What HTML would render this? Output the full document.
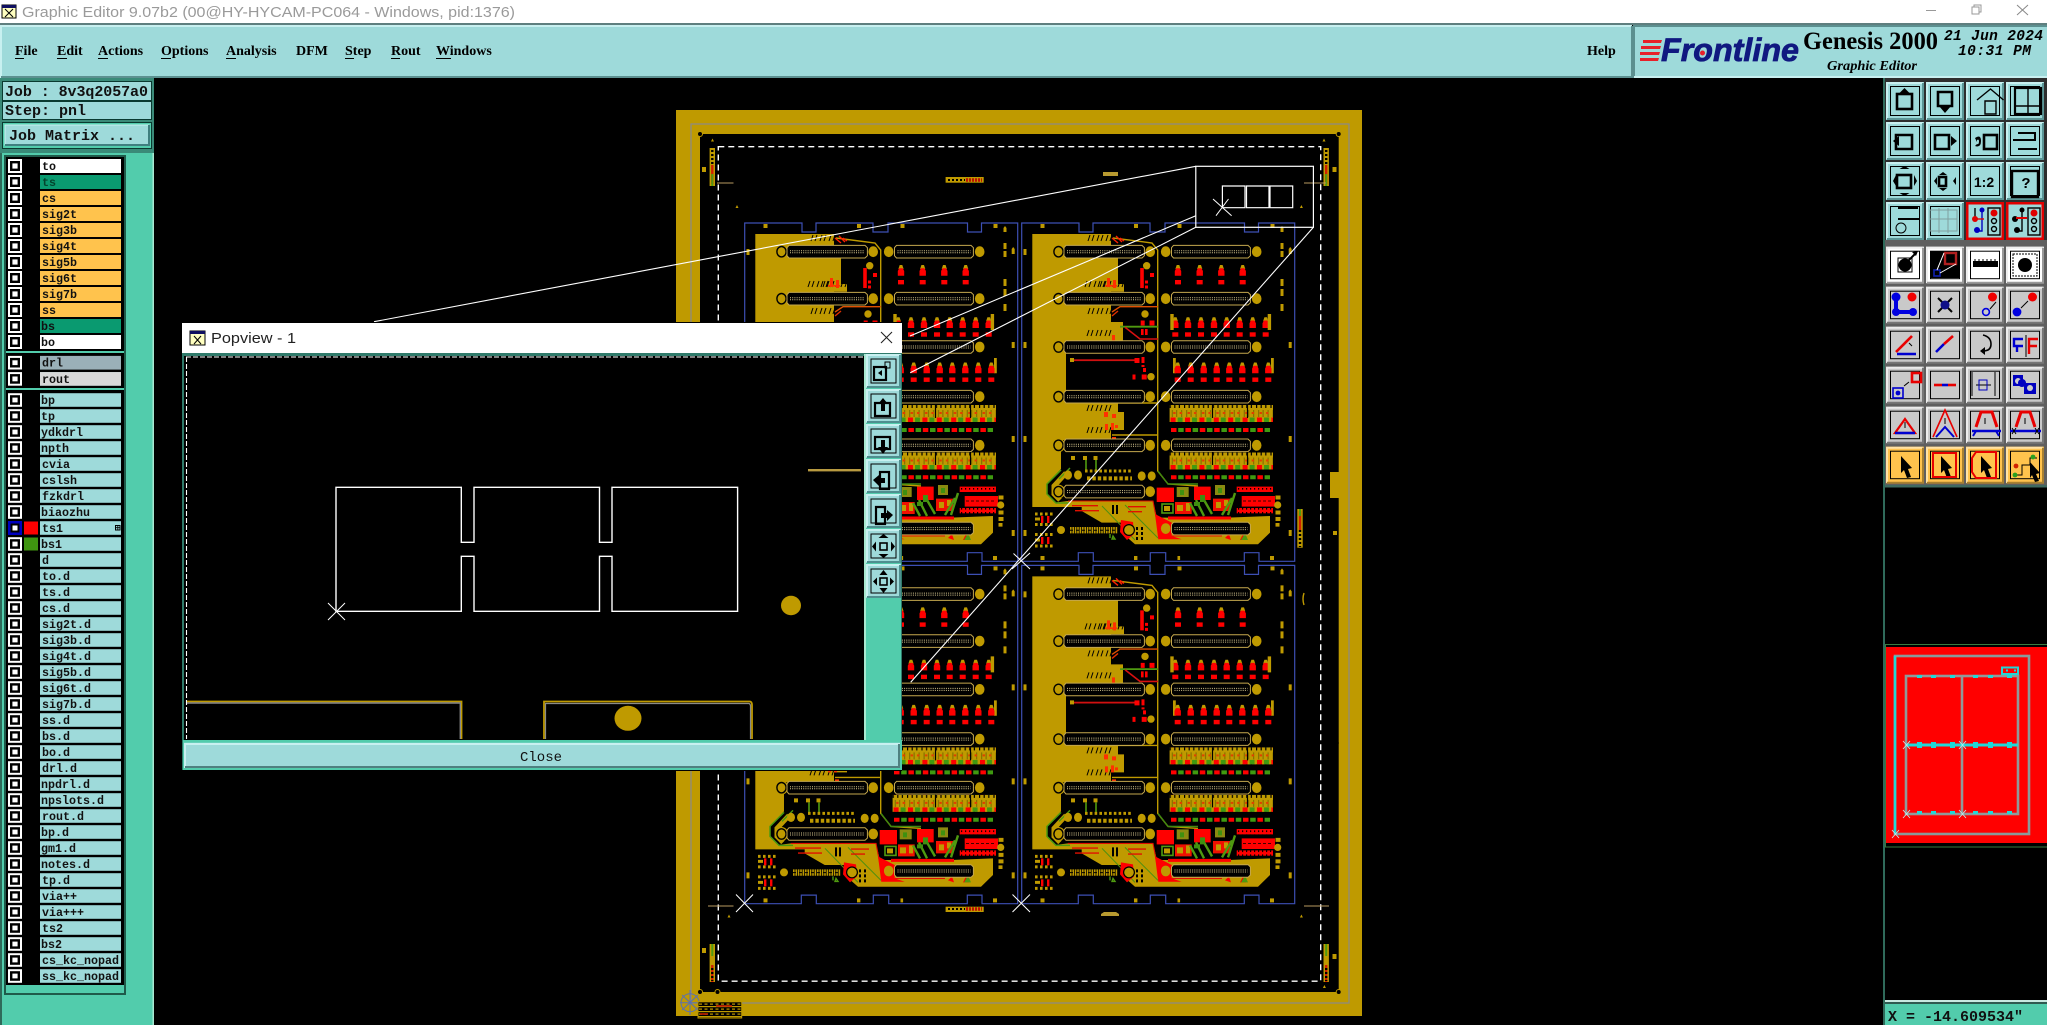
<!DOCTYPE html>
<html><head><meta charset="utf-8"><title>Graphic Editor</title>
<style>
html,body{margin:0;padding:0;background:#000;overflow:hidden}
svg{display:block}
.mono{font-family:"Liberation Mono",monospace;font-weight:bold}
.m{font-family:"Liberation Serif",serif;font-weight:bold;font-size:14px;fill:#000}
.l{font-family:"Liberation Mono",monospace;font-weight:bold;font-size:11.67px;fill:#111}
</style></head><body>
<svg xmlns="http://www.w3.org/2000/svg" width="2047" height="1025" viewBox="0 0 2047 1025">
<defs>
<pattern id="bead" width="14.4" height="17" patternUnits="userSpaceOnUse" x="1169.6" y="405">
<rect width="14.4" height="17" fill="#bf9a00"/>
<rect x="0" y="0" width="1.2" height="3" fill="#000"/><rect x="4.6" y="0" width="1.2" height="3" fill="#000"/><rect x="9.2" y="0" width="1.2" height="3" fill="#000"/>
<rect x="2.2" y="5" width="1" height="7" fill="#7a6a00"/><rect x="6.6" y="5" width="1" height="7" fill="#7a6a00"/><rect x="11.6" y="5" width="1" height="7" fill="#7a6a00"/>
<rect x="3.6" y="7" width="2.4" height="2" fill="#e04000"/><rect x="10" y="7" width="2.4" height="2" fill="#e04000"/>
<rect x="1" y="12.5" width="5" height="4.5" fill="#ff0000"/><rect x="8" y="12.5" width="5" height="4.5" fill="#3f9a10"/>
</pattern>
<pattern id="hatch" width="4" height="4" patternUnits="userSpaceOnUse"><rect width="4" height="4" fill="#ff0000"/><rect x="2" width="1.2" height="1.6" fill="#000"/></pattern>
<pattern id="gridp" width="5.5" height="5" patternUnits="userSpaceOnUse" x="698" y="1001"><rect width="5.5" height="5" fill="#000"/><rect width="5.5" height="1.2" fill="#bf9a00"/><rect y="2.5" x="1" width="3" height="1.2" fill="#bf9a00"/></pattern>

<g id="R"><rect x="8" y="-6.8" width="14" height="13.6" fill="#fff"/><rect x="11.2" y="-3.6" width="7.6" height="7.2" fill="#fff" stroke="#000" stroke-width="2.4"/><rect x="40" y="-6.8" width="81" height="13.6" fill="#9edada"/></g>
<g id="C"><rect x="8" y="-7" width="14" height="14" fill="#fff"/><rect x="11.2" y="-3.8" width="7.6" height="7.6" fill="#fff" stroke="#000" stroke-width="2.4"/></g>

<g id="bT"><rect width="38" height="38" fill="#9edada"/><path d="M1,37V1H37" stroke="#c8f0f0" stroke-width="2" fill="none"/><path d="M1,37H37V1" stroke="#5c9696" stroke-width="2" fill="none"/><rect x="4.5" y="4.5" width="29" height="29" fill="none" stroke="#000" stroke-width="1"/></g>
<g id="bG"><rect width="38" height="36.5" fill="#c9c9c9"/><path d="M1,36V1H37" stroke="#ececec" stroke-width="2" fill="none"/><path d="M1,36H37V1" stroke="#777" stroke-width="2" fill="none"/><rect x="4.5" y="4.5" width="29" height="27.5" fill="none" stroke="#000" stroke-width="1"/></g>
<g id="bW"><rect width="38" height="36.5" fill="#fff"/><path d="M1,36V1H37" stroke="#eee" stroke-width="2" fill="none"/><path d="M1,36H37V1" stroke="#999" stroke-width="2" fill="none"/><rect x="4.5" y="4.5" width="29" height="27.5" fill="none" stroke="#000" stroke-width="1"/></g>
<g id="bO"><rect width="38" height="36.5" fill="#ffc34d"/><path d="M1,36V1H37" stroke="#ffe2a6" stroke-width="2" fill="none"/><path d="M1,36H37V1" stroke="#a98030" stroke-width="2" fill="none"/><rect x="4.5" y="4.5" width="29" height="27.5" fill="none" stroke="#000" stroke-width="1"/></g>
<g id="bP"><rect width="35" height="34" fill="#9edada"/><path d="M1,33V1H34" stroke="#c8f0f0" stroke-width="2" fill="none"/><path d="M1,33H34V1" stroke="#4f8f8f" stroke-width="2" fill="none"/><rect x="5" y="5" width="25" height="24" fill="none" stroke="#000" stroke-width="1"/></g>

<g id="cL"><ellipse cx="1058.5" cy="0" rx="6.6" ry="7" fill="#bf9a00"/><ellipse cx="1058.5" cy="0" rx="4.6" ry="5.2" fill="#bf9a00" stroke="#000" stroke-width="1.4"/><path d="M1066,-6.3H1142L1144.4,-4V4L1142,6.3H1066L1064,4V-4Z" fill="#000" stroke="#c5a84e" stroke-width="1"/><path d="M1067,-1H1141M1067,1H1141" stroke="#d8c890" stroke-width="1" stroke-dasharray="1 1.2"/><ellipse cx="1150.2" cy="0" rx="4.8" ry="5.4" fill="#bf9a00"/></g>
<g id="cR"><ellipse cx="1165.7" cy="0" rx="4.8" ry="5.4" fill="#bf9a00"/><path d="M1173.5,-6.3H1248L1250.4,-4V4L1248,6.3H1173.5L1171.5,4V-4Z" fill="#000" stroke="#c5a84e" stroke-width="1"/><path d="M1174.5,-1H1247.5M1174.5,1H1247.5" stroke="#d8c890" stroke-width="1" stroke-dasharray="1 1.2"/><ellipse cx="1256.7" cy="0" rx="4.8" ry="5.4" fill="#bf9a00"/></g>
<g id="k"><path d="M-2.6,4L-1.3,0H1.3L2.6,4Z" fill="#bf9a00"/><path d="M-1.8,3.2H1.8L3.2,6V10.7H-3.2V6Z" fill="#ff0000"/><rect x="-3" y="15" width="6" height="4.4" fill="#ff0000"/></g>
<g id="dash"><path d="M0,6L2,0M4,6L6,0M9,6L11,0M13,6L15,0M18,6L20,0M22,6L24,0" stroke="#000" stroke-width="1" fill="none"/></g>

<g id="P">
<path d="M1021.7,223H1079V232H1093V223H1150V232H1165V223H1244.5V232H1258.5V223H1294.7V561.3H1259V552.7H1244.3V561.3H1165.7V552.7H1150.3V561.3H1093.3V552.7H1078.3V561.3H1021.7Z" fill="none" stroke="#3d4fb4" stroke-width="1.2"/>
<!-- plane -->
<path d="M1032.3,234H1111V258H1118V284H1124V291.7H1111V322H1123V345H1066V391H1124V403H1118V412H1124V430H1111V440H1061V469L1046.7,484.3V494.3L1055,502.6L1068,501H1153L1157,517.6H1228L1270,516V532.6L1258,544.3H1135L1121.7,532.6L1123,522.6H1101.7L1081.7,511V507H1032.3Z" fill="#bf9a00"/>
<!-- green band around pad -->
<path d="M1061,470L1047,484V494L1056,503H1070" fill="none" stroke="#4a9a10" stroke-width="1.5"/>
<path d="M1066,473L1054,486V494L1060,500" fill="none" stroke="#bf9a00" stroke-width="5"/>
<path d="M1070,468L1059,479" stroke="#4a9a10" stroke-width="1.4"/>
<!-- band traces -->
<path d="M1068,501H1153L1157,522L1160,536H1222" fill="none" stroke="#e01000" stroke-width="1.1"/>
<path d="M1102,506L1135,540M1125,505L1158,538" fill="none" stroke="#4f9010" stroke-width="1"/>
<path d="M1072,505h26v1.4h-26zM1075,510h24v1.4h-24zM1128,506h18v1.4h-18zM1128,511h14v1.4h-14z" fill="#e01000"/>
<path d="M1112,505h2v9h-2zM1116,505h2v9h-2z" fill="#000"/>
<!-- red wedge near bottom connector -->
<path d="M1155,514L1171.7,522.6V536L1181.7,539.3H1158.3Z" fill="#ff0000"/>
<path d="M1168,518H1231" stroke="#ff0000" stroke-width="3"/>
<path d="M1225,538l4,-4l2,6zM1240,540l3,-6l3,6z" fill="#ff0000"/><path d="M1241,540l4,-7l3,7z" fill="#4f9a10"/>
<path d="M1121,520L1133,522L1134,534L1127,540L1120,532Z" fill="#ff0000"/>
<!-- upper-left traces -->
<path d="M1113,238L1152,243L1157.7,250V471L1168,484L1198,486" fill="none" stroke="#bf9a00" stroke-width="1.4"/>
<path d="M1112,312L1120,306.7H1158" fill="none" stroke="#e05000" stroke-width="1.4"/>
<path d="M1120,326.7H1158" stroke="#4f9a10" stroke-width="1.8"/>
<path d="M1125,327.3L1140,339H1158" stroke="#d81010" stroke-width="1.6" fill="none"/>
<path d="M1112,403H1158M1112,435H1158" stroke="#bf9a00" stroke-width="1.4"/>
<path d="M1112,238L1118,243M1116,236L1122,242M1120,238L1124,241" stroke="#ff2000" stroke-width="1.4"/>
<path d="M1112,316L1118,311" stroke="#e03000" stroke-width="1.4"/>
<!-- marks -->
<use href="#dash" x="1088" y="235"/><use href="#dash" x="1085" y="281"/><use href="#dash" x="1100" y="281"/><use href="#dash" x="1088" y="308"/><use href="#dash" x="1087" y="330"/><use href="#dash" x="1087" y="405"/><use href="#dash" x="1087" y="427"/>
<path d="M1107,278h3v9h-3zM1113,280h3v8h-3zM1105,285h12v1.6h-12zM1112,335h3v6h-3zM1104,412h4v5h-4zM1112,414h4v4h-4zM1105,424h3v6h-3zM1111,423h3v7h-3zM1115,425h3v3h-3zM1112,437h4v3h-4z" fill="#ff3000"/>
<!-- connectors -->
<use href="#cL" y="251.7"/><use href="#cL" y="298.7"/><use href="#cL" y="347"/><use href="#cL" y="396.7"/><use href="#cL" y="445.3"/>
<ellipse cx="1058.5" cy="491.6" rx="6" ry="6.6" fill="#000"/><use href="#cL" y="491.6"/>
<use href="#cR" y="251.7"/><use href="#cR" y="298.7"/><use href="#cR" y="347"/><use href="#cR" y="396.7"/><use href="#cR" y="445.3"/><use href="#cR" y="528.6"/>
<!-- components -->
<use href="#k" x="1178" y="265"/><use href="#k" x="1199.7" y="265"/><use href="#k" x="1221.3" y="265"/><use href="#k" x="1242.7" y="265"/>
<use href="#k" x="1175.3" y="317.3"/><use href="#k" x="1188" y="317.3"/><use href="#k" x="1201" y="317.3"/><use href="#k" x="1214" y="317.3"/><use href="#k" x="1226.7" y="317.3"/><use href="#k" x="1239.7" y="317.3"/><use href="#k" x="1252.7" y="317.3"/><use href="#k" x="1265.7" y="317.3"/>
<path d="M1170.3,314h3.4v16h-3.4zM1267.7,314h3.4v16h-3.4zM1173,358h2.8v15.3h-2.8zM1271,358h2.8v15.3h-2.8z" fill="#bf9a00"/>
<use href="#k" x="1177.7" y="362.5"/><use href="#k" x="1190.7" y="362.5"/><use href="#k" x="1203.7" y="362.5"/><use href="#k" x="1216.7" y="362.5"/><use href="#k" x="1229.3" y="362.5"/><use href="#k" x="1242.3" y="362.5"/><use href="#k" x="1255.3" y="362.5"/><use href="#k" x="1268.3" y="362.5"/>
<rect x="1169.6" y="405" width="103.4" height="17" fill="url(#bead)"/>
<rect x="1169.6" y="405" width="103.4" height="17" fill="url(#bead)" transform="translate(0,47.5)"/>
<path d="M1212.5,405v13M1247.5,405v13" stroke="#000" stroke-width="1.2"/>
<path d="M1212.5,452v13M1247.5,452v13" stroke="#000" stroke-width="1.2"/>
<path d="M1171,430H1270" stroke="#ff0000" stroke-width="4" stroke-dasharray="5.5 8.9"/>
<path d="M1178.2,430H1270" stroke="#3f9a10" stroke-width="4" stroke-dasharray="5.5 8.9"/>
<path d="M1171,477.3H1270" stroke="#ff0000" stroke-width="4" stroke-dasharray="5.5 8.9"/>
<path d="M1178.2,477.3H1270" stroke="#3f9a10" stroke-width="4" stroke-dasharray="5.5 8.9"/>
<!-- left col red parts -->
<circle cx="1146.7" cy="265.7" r="3.7" fill="#bf9a00"/><path d="M1140.2,268h3.6v20h-3.6zM1150,273h4v4h-4zM1145,280.5h3v3h-3zM1145,285.5h3v3h-3z" fill="#ff0000"/>
<circle cx="1145" cy="314" r="3.7" fill="#bf9a00"/><path d="M1140.7,320.5h4v5h-4zM1149.5,320.5h5v5h-5zM1141,329h2.6v6h-2.6zM1145,329h2.6v6h-2.6z" fill="#ff0000"/>
<rect x="1071" y="359.3" width="66" height="1.8" fill="#d01010"/><rect x="1070" y="358" width="4" height="4" fill="#bf9a00"/>
<path d="M1134.5,358h5v5h-5zM1141.5,357h3v6h-3zM1141.5,365h3v2h-3zM1143,368h3v4h-3zM1132.5,374.5h3v5h-3zM1141.7,374.5h5v5h-5z" fill="#ff0000"/><circle cx="1151" cy="376.7" r="3.7" fill="#bf9a00"/>
<!-- lower black parts -->
<path d="M1071,456h4v4h-4zM1083,456h4v4h-4zM1093.5,456h4v4h-4z" fill="#bf9a00"/>
<path d="M1086,460v10M1096,460v10" stroke="#4f9a10" stroke-width="1.6"/>
<path d="M1085,471H1133" stroke="#bf9a00" stroke-width="3" stroke-dasharray="2.6 2.2"/>
<path d="M1087,478.4H1132" stroke="#bf9a00" stroke-width="4" stroke-dasharray="3.4 2"/>
<ellipse cx="1068" cy="475" rx="4" ry="4.6" fill="#bf9a00"/><ellipse cx="1078" cy="475" rx="4" ry="4.6" fill="#bf9a00"/><ellipse cx="1141.7" cy="476" rx="4" ry="4.6" fill="#bf9a00"/><ellipse cx="1151.7" cy="476" rx="4" ry="4.6" fill="#bf9a00"/>
<path d="M1158,471L1168,484H1198" stroke="#3f8a10" stroke-width="1.4" fill="none"/>
<!-- power block -->
<rect x="1156.7" y="487.6" width="17.3" height="14.4" fill="#ff0000"/><rect x="1194" y="486.6" width="16.7" height="13.4" fill="#ff0000"/>
<rect x="1241.7" y="496" width="33.3" height="10.6" fill="#ff0000"/><path d="M1243,501h30" stroke="#000" stroke-width=".8" stroke-dasharray="3 2"/>
<rect x="1236.7" y="486.6" width="36.3" height="5.4" fill="url(#hatch)"/><rect x="1236.7" y="508" width="36.3" height="5.3" fill="url(#hatch)"/>
<path d="M1175,502h16.7v12h-16.7zM1213,498.6h17v12.4h-17z" fill="#f01000"/>
<path d="M1177,505h6v6h-6zM1186,503h4v8h-4zM1216,502h5v6h-5zM1224,500h4v6h-4z" fill="#c09a00"/>
<path d="M1176.7,487h12v10h-12zM1215,485h10v10h-10z" fill="#8a8a10"/>
<path d="M1180,490h4v5h-4zM1218,488h4v5h-4z" fill="#3f9010"/>
<rect x="1162" y="504" width="11" height="9" fill="none" stroke="#4f9a10" stroke-width="1.6"/><rect x="1164" y="506" width="6" height="5" fill="#bf9a00"/>
<path d="M1190,503L1197,516M1196,500L1204,516M1204,500L1212,514M1235,493L1228,515M1232,498L1222,515" stroke="#4f9a10" stroke-width="2.4" fill="none"/>
<path d="M1200,495h5v7h-5zM1194,502h6v4h-6z" fill="#3f9010"/>
<circle cx="1277.7" cy="505" r="3.6" fill="#bf9a00"/><path d="M1275.5,495.5h5v4h-5zM1275.5,510.5h5v4h-5zM1275.5,517h5v4h-5zM1275.5,523h4v3.6h-4z" fill="#bf9a00"/>
<!-- small groups -->
<g fill="#bf9a00"><path d="M1035,512.5h2.6v3h-2.6zM1040,512.5h2.6v3h-2.6zM1045,512.5h2.6v3h-2.6zM1050,512.5h2.6v3h-2.6zM1035,523h2.6v3h-2.6zM1040,523h2.6v3h-2.6zM1045,523h2.6v3h-2.6zM1050,523h2.6v3h-2.6zM1035,517.5h5v3h-5zM1035,533h2.6v3h-2.6zM1040,533h2.6v3h-2.6zM1045,533h2.6v3h-2.6zM1050,533h2.6v3h-2.6zM1035,544.5h2.6v3h-2.6zM1040,544.5h2.6v3h-2.6zM1045,544.5h2.6v3h-2.6zM1050,544.5h2.6v3h-2.6zM1035,538.5h5v3h-5z"/></g>
<path d="M1041,516h2.4v7h-2.4zM1047,516h2.4v7h-2.4zM1041,537h2.4v7h-2.4zM1047,537h2.4v7h-2.4z" fill="#ff0000"/>
<path d="M1070,530.2H1118" stroke="#bf9a00" stroke-width="6.4" stroke-dasharray="1.6 .8"/><path d="M1070,530.2H1118" stroke="#000" stroke-width="1" stroke-dasharray="3 3"/>
<circle cx="1061" cy="530" r="4" fill="#bf9a00"/><circle cx="1129" cy="530" r="5.4" fill="#bf9a00" stroke="#000" stroke-width="1.2"/>
<path d="M1113,536l2,3h-3zM1110,534v4" stroke="#4f9a10" stroke-width="1.4"/>
<path d="M1136,527h2v3h-2zM1141,527h2v3h-2zM1136,532h2v3h-2zM1141,532h2v3h-2zM1136,537h2v3h-2zM1141,537h2v3h-2z" fill="#000"/>
<!-- vias -->
<g fill="#bf9a00"><path d="M1280.5,228l1.5,-2l1.5,2v4h-3zM1280.5,243h3v6h-3zM1280.5,251h3v6h-3zM1280.5,279h3v7h-3zM1280.5,289h3v7h-3zM1280.5,304h3v7h-3zM1288.7,249l1.5,-2l1.5,2v5h-3zM1288.7,342h3v6h-3zM1288.7,436h3v6h-3zM1288.7,530h3v6h-3zM1023.5,249h3v6h-3zM1023.5,342h3v6h-3zM1023.5,436h3v6h-3zM1023.5,530h3v6h-3z"/>
<rect x="1040.5" y="224" width="4" height="4"/><rect x="1134" y="224" width="4" height="4"/><rect x="1177.5" y="224" width="4" height="4"/><rect x="1270.5" y="224" width="4" height="4"/>
<rect x="1040.5" y="556" width="4" height="4"/><rect x="1134" y="556" width="3.4" height="4"/><rect x="1177.5" y="556" width="2.6" height="4"/><rect x="1270" y="556" width="4" height="4"/></g>
</g>
</defs>

<rect width="2047" height="1025" fill="#000"/>

<!-- Title bar -->
<rect width="2047" height="23" fill="#fff"/>
<rect y="23" width="2047" height="2" fill="#5f7f7f"/>
<rect x="2" y="5" width="14" height="13" fill="#ffffc0" stroke="#000"/><rect x="2" y="5" width="14" height="3" fill="#101060"/><path d="M5,9L13,17M13,9L5,17" stroke="#000"/>
<text x="22" y="17" font-family="'Liberation Sans',sans-serif" font-size="15" fill="#9a9a9a" textLength="493" lengthAdjust="spacingAndGlyphs">Graphic Editor 9.07b2 (00@HY-HYCAM-PC064 - Windows, pid:1376)</text>
<path d="M1926,10.5H1936" stroke="#999"/><rect x="1972" y="7" width="7" height="7" fill="none" stroke="#999"/><path d="M1974,7V5H1981V12H1979" fill="none" stroke="#999"/><path d="M2017,5L2028,15M2028,5L2017,15" stroke="#888"/>

<!-- Menu bar -->
<rect y="25" width="1632" height="53" fill="#9edada"/>
<path d="M1,78V26H1632" stroke="#c8f0f0" stroke-width="2" fill="none"/><path d="M1,77H1632V26" stroke="#5c9090" stroke-width="2" fill="none"/>
<text class="m" x="15" y="55">File</text><text class="m" x="57" y="55">Edit</text><text class="m" x="98" y="55">Actions</text><text class="m" x="161" y="55">Options</text><text class="m" x="226" y="55">Analysis</text><text class="m" x="296" y="55">DFM</text><text class="m" x="345" y="55">Step</text><text class="m" x="391" y="55">Rout</text><text class="m" x="436" y="55">Windows</text>
<path d="M15,58.5h9M57,58.5h10M98,58.5h10M161,58.5h10M226,58.5h10M345,58.5h9M391,58.5h9M436,58.5h15" stroke="#000" stroke-width="1"/>
<text class="m" x="1587" y="55">Help</text>
<rect x="1634" y="25" width="413" height="53" fill="#9edada"/>
<path d="M1634,78V26H2047" stroke="#5c9090" stroke-width="2" fill="none"/><path d="M1634,77H2047" stroke="#c8f0f0" stroke-width="2"/>
<path d="M1643,40h19l-1,3h-18zM1641,46h20l-1,3h-19zM1640,52h20l-1,3h-19zM1640,58h19l-1,3h-18z" fill="#e8202a"/>
<text x="1661" y="61" font-family="'Liberation Sans',sans-serif" font-style="italic" font-weight="bold" font-size="32" fill="#101880" stroke="#101880" stroke-width=".8" textLength="138" lengthAdjust="spacingAndGlyphs">Frontline</text>
<circle cx="1702.5" cy="53" r="2.5" fill="#e8202a"/>
<text x="1803" y="49" font-family="'Liberation Serif',serif" font-weight="bold" font-size="25" fill="#000" textLength="135" lengthAdjust="spacingAndGlyphs">Genesis 2000</text>
<text x="1827" y="70" font-family="'Liberation Serif',serif" font-weight="bold" font-style="italic" font-size="14" fill="#000" textLength="90" lengthAdjust="spacingAndGlyphs">Graphic Editor</text>
<text x="1944" y="40" font-family="'Liberation Mono',monospace" font-weight="bold" font-style="italic" font-size="14.5" fill="#000" textLength="99">21 Jun 2024</text>
<text x="1958" y="55" font-family="'Liberation Mono',monospace" font-weight="bold" font-style="italic" font-size="14.5" fill="#000" textLength="73">10:31 PM</text>

<!-- Left panel -->
<rect x="0" y="78" width="154" height="947" fill="#52ccac"/>
<rect x="0" y="78" width="154" height="75" fill="#3a8a78"/>
<rect x="2.5" y="81.5" width="149" height="38" fill="#9edada" stroke="#0a3a30"/><line x1="2" y1="101" x2="152" y2="101" stroke="#0a3a30" stroke-width="2"/>
<text class="mono" x="5" y="96" font-size="15" fill="#111" textLength="143">Job : 8v3q2057a0</text>
<text class="mono" x="5" y="115" font-size="15" fill="#111">Step: pnl</text>
<rect x="2.5" y="122.5" width="149" height="26" fill="#52ccac" stroke="#0a3a30"/>
<rect x="5" y="125" width="144" height="20" fill="#9edada" stroke="#c8f0f0"/><path d="M5,145H149V125" stroke="#3f7f7f" stroke-width="2" fill="none"/>
<text class="mono" x="9" y="140" font-size="15" fill="#111">Job Matrix ...</text>
<rect x="0" y="153" width="2" height="872" fill="#2f6a5a"/>
<rect x="152.5" y="153" width="1.5" height="872" fill="#a8e8d0"/>
<rect x="4" y="155" width="122" height="840" fill="#1f5a4a"/>
<rect x="6" y="157" width="118" height="836" fill="#000"/>
<rect x="6" y="985" width="118" height="8" fill="#52ccac"/>
<rect x="6" y="351" width="118" height="2" fill="#52ccac"/><rect x="6" y="388" width="118" height="2" fill="#52ccac"/>

<!-- group1 -->
<use href="#C" y="166"/><use href="#C" y="182"/><use href="#C" y="198"/><use href="#C" y="214"/><use href="#C" y="230"/><use href="#C" y="246"/><use href="#C" y="262"/><use href="#C" y="278"/><use href="#C" y="294"/><use href="#C" y="310"/><use href="#C" y="326"/><use href="#C" y="342"/>
<rect x="40" y="159" width="81" height="14" fill="#fff"/><rect x="40" y="175" width="81" height="14" fill="#0a9a70"/>
<g fill="#ffc34d"><rect x="40" y="191" width="81" height="14"/><rect x="40" y="207" width="81" height="14"/><rect x="40" y="223" width="81" height="14"/><rect x="40" y="239" width="81" height="14"/><rect x="40" y="255" width="81" height="14"/><rect x="40" y="271" width="81" height="14"/><rect x="40" y="287" width="81" height="14"/><rect x="40" y="303" width="81" height="14"/></g>
<rect x="40" y="319" width="81" height="14" fill="#0a9a70"/><rect x="40" y="335" width="81" height="14" fill="#fff"/>
<text class="l" x="42" y="170">to</text><text class="l" x="42" y="186" style="fill:#04452e">ts</text><text class="l" x="42" y="202">cs</text><text class="l" x="42" y="218">sig2t</text><text class="l" x="42" y="234">sig3b</text><text class="l" x="42" y="250">sig4t</text><text class="l" x="42" y="266">sig5b</text><text class="l" x="42" y="282">sig6t</text><text class="l" x="42" y="298">sig7b</text><text class="l" x="42" y="314">ss</text><text class="l" x="41" y="330">bs</text><text class="l" x="41" y="346">bo</text>
<!-- group2 -->
<use href="#R" y="362.7"/><use href="#R" y="378.9"/>
<rect x="40" y="356" width="81" height="13.6" fill="#9ab0b8"/><rect x="40" y="372.1" width="81" height="13.6" fill="#d8d8d8"/>
<text class="l" x="42" y="366.7">drl</text><text class="l" x="42" y="382.9">rout</text>
<!-- group3 -->
<use href="#R" y="400"/><text class="l" x="41" y="404">bp</text>
<use href="#R" y="416"/><text class="l" x="41" y="420">tp</text>
<use href="#R" y="432"/><text class="l" x="41" y="436">ydkdrl</text>
<use href="#R" y="448"/><text class="l" x="41" y="452">npth</text>
<use href="#R" y="464"/><text class="l" x="42" y="468">cvia</text>
<use href="#R" y="480"/><text class="l" x="42" y="484">cslsh</text>
<use href="#R" y="496"/><text class="l" x="42" y="500">fzkdrl</text>
<use href="#R" y="512"/><text class="l" x="41" y="516">biaozhu</text>
<use href="#R" y="528"/><text class="l" x="42" y="532">ts1</text>
<use href="#R" y="544"/><text class="l" x="41" y="548">bs1</text>
<use href="#R" y="560"/><text class="l" x="42" y="564">d</text>
<use href="#R" y="576"/><text class="l" x="42" y="580">to.d</text>
<use href="#R" y="592"/><text class="l" x="42" y="596">ts.d</text>
<use href="#R" y="608"/><text class="l" x="42" y="612">cs.d</text>
<use href="#R" y="624"/><text class="l" x="42" y="628">sig2t.d</text>
<use href="#R" y="640"/><text class="l" x="42" y="644">sig3b.d</text>
<use href="#R" y="656"/><text class="l" x="42" y="660">sig4t.d</text>
<use href="#R" y="672"/><text class="l" x="42" y="676">sig5b.d</text>
<use href="#R" y="688"/><text class="l" x="42" y="692">sig6t.d</text>
<use href="#R" y="704"/><text class="l" x="42" y="708">sig7b.d</text>
<use href="#R" y="720"/><text class="l" x="42" y="724">ss.d</text>
<use href="#R" y="736"/><text class="l" x="42" y="740">bs.d</text>
<use href="#R" y="752"/><text class="l" x="42" y="756">bo.d</text>
<use href="#R" y="768"/><text class="l" x="42" y="772">drl.d</text>
<use href="#R" y="784"/><text class="l" x="41" y="788">npdrl.d</text>
<use href="#R" y="800"/><text class="l" x="41" y="804">npslots.d</text>
<use href="#R" y="816"/><text class="l" x="42" y="820">rout.d</text>
<use href="#R" y="832"/><text class="l" x="41" y="836">bp.d</text>
<use href="#R" y="848"/><text class="l" x="41" y="852">gm1.d</text>
<use href="#R" y="864"/><text class="l" x="41" y="868">notes.d</text>
<use href="#R" y="880"/><text class="l" x="42" y="884">tp.d</text>
<use href="#R" y="896"/><text class="l" x="42" y="900">via++</text>
<use href="#R" y="912"/><text class="l" x="42" y="916">via+++</text>
<use href="#R" y="928"/><text class="l" x="42" y="932">ts2</text>
<use href="#R" y="944"/><text class="l" x="41" y="948">bs2</text>
<use href="#R" y="960"/><text class="l" x="42" y="964">cs_kc_nopad</text>
<use href="#R" y="976"/><text class="l" x="42" y="980">ss_kc_nopad</text>
<rect x="8" y="521" width="14" height="14" fill="#0000c0"/><rect x="11.5" y="524.5" width="7" height="7" fill="#fff" stroke="#000" stroke-width="2"/>
<rect x="24" y="521.5" width="14" height="13" fill="#ff0000"/><rect x="24" y="537.5" width="14" height="13" fill="#3f9410"/>
<rect x="115.5" y="525.5" width="4.5" height="4.5" fill="none" stroke="#000"/><path d="M117.8,525.5v4.5M115.5,527.7h4.5" stroke="#000" stroke-width=".8"/>

<!-- Board -->
<path fill-rule="evenodd" d="M676,110H1362V1016H676ZM700,134V992H1338.7V134Z" fill="#bf9a00"/>
<rect x="1330" y="472" width="9" height="26" fill="#bf9a00"/>
<rect x="691" y="124" width="658" height="879" fill="none" stroke="#8a8a8a" stroke-width="1.2"/>
<circle cx="700" cy="134" r="2.5" fill="#000" stroke="#bf9a00"/><circle cx="1338.7" cy="134" r="2.5" fill="#000" stroke="#bf9a00"/><circle cx="700" cy="992" r="2.5" fill="#000" stroke="#bf9a00"/><circle cx="717.5" cy="992" r="2.5" fill="#000" stroke="#bf9a00"/><circle cx="1338.7" cy="992" r="2.5" fill="#000" stroke="#bf9a00"/>
<rect x="718.3" y="146.7" width="602.4" height="834.5" fill="none" stroke="#fff" stroke-width="1.4" stroke-dasharray="6 4"/>

<use href="#P"/>
<use href="#P" x="-277"/>
<use href="#P" y="342.4"/>
<use href="#P" x="-277" y="342.4"/>

<!-- frame details -->
<g fill="#bf9a00">
<rect x="709.6" y="148" width="5.4" height="38"/><rect x="1323.5" y="148" width="5.4" height="38"/><rect x="709.6" y="944" width="5.4" height="38"/><rect x="1323.5" y="944" width="5.4" height="38"/><rect x="1297.3" y="509" width="5.4" height="38.7"/>
<rect x="702" y="167" width="4" height="5"/><rect x="1332.5" y="167" width="4" height="5"/><rect x="702" y="948" width="4" height="5"/><rect x="1332.5" y="954" width="4" height="5"/><rect x="1333" y="531" width="4" height="4"/>
<rect x="945.6" y="177" width="38.1" height="5.7"/><rect x="945.6" y="906.7" width="38.1" height="5.3"/>
<path d="M712.5,138.5l1.5,3h-3zM1324,138.5l1.5,3h-3zM737,205l1.5,3h-3zM1301.4,205l1.5,3h-3zM729,914.5l1.5,3h-3zM1301.4,914.5l1.5,3h-3zM1324.4,985l1.5,3h-3z"/>
<path d="M1103,172h15v4h-15zM1101,914l3,-2h12l3,2v2h-18z" fill="#b89a30"/>
</g>
<path d="M712.3,165V184M1326.2,165V184M712.3,965V982M1326.2,965V982M1300,511V530" stroke="#d02000" stroke-width="2.4"/>
<path d="M712.3,174V186M1326.2,174V186M712.3,944V956M1326.2,944V956M1300,509V516" stroke="#4f9a10" stroke-width="2"/>
<path d="M712.3,150V165M1326.2,150V165M712.3,968V981M1326.2,968V981M1300,530V547" stroke="#000" stroke-width="2.4" stroke-dasharray="2 2"/>
<path d="M948,180H965M948,909H965" stroke="#000" stroke-width="2" stroke-dasharray="2 2"/>
<path d="M966,180H982M966,909H982" stroke="#c01000" stroke-width="3.6" stroke-dasharray="2 1"/>
<path d="M717,183H733.5M1304,183H1326M708,906H733.5M1304,906H1329" stroke="#b89a60" stroke-width="1"/>
<path d="M1304,593q-2,6 0,12" stroke="#bf9a00" stroke-width="1.4" fill="none"/>
<path d="M1336.7,741v4M1334.7,743h4" stroke="#000" stroke-width="1.4"/>
<g stroke="#5a70b0" stroke-width="1" fill="none"><circle cx="690" cy="1002.7" r="9"/><path d="M690,990V1015M680,1002.7H700M682,995L698,1010M682,1010L698,995"/></g>
<rect x="698" y="1001.7" width="43.7" height="16.3" fill="url(#gridp)" stroke="#bf9a00"/>
<path d="M700,1014h8M716,1006h16" stroke="#d02000" stroke-width="1.4"/>

<!-- Crosses -->
<g stroke="#fff" stroke-width="1" fill="none">
<path d="M1013.5,553.5L1030,569M1030,553L1012,569"/>
<path d="M736,894.5L753,912M753,894.5L736,912"/>
<path d="M1012.5,894.5L1030,912M1030,894.5L1012.5,912"/>
<path d="M1213,199L1231.6,215.7M1228.5,199L1216,215.7"/>
</g>
<!-- Popview marker -->
<rect x="1195.8" y="166.3" width="117.6" height="61" fill="none" stroke="#fff" stroke-width="1.2"/>
<path d="M1222.4,186H1245V207.7H1222.4ZM1246.5,186H1269V207.7H1246.5ZM1270,186H1292.7V207.7H1270Z" fill="none" stroke="#fff" stroke-width="1.2"/>
<!-- zoom lines -->
<g stroke="#fff" stroke-width="1.1" fill="none">
<line x1="1195.8" y1="166.3" x2="374" y2="321.7"/>
<line x1="1195.8" y1="215.7" x2="910" y2="336"/>
<line x1="1195.8" y1="227.3" x2="910.2" y2="372.7"/>
<line x1="1313.4" y1="227.3" x2="910.7" y2="682.3"/>
</g>

<!-- Popview -->
<rect x="181" y="322" width="721" height="449" fill="#000"/>
<rect x="182" y="323" width="720" height="30" fill="#fff"/>
<rect x="190" y="331" width="15" height="14" fill="#ffffc0" stroke="#000"/><rect x="190" y="331" width="15" height="3" fill="#101060"/><path d="M194,336L201,344M201,336L194,344" stroke="#000"/>
<text x="211" y="343" font-family="'Liberation Sans',sans-serif" font-size="15" fill="#222" textLength="85" lengthAdjust="spacingAndGlyphs">Popview - 1</text>
<path d="M881,332L892,343M892,332L881,343" stroke="#222" stroke-width="1.1"/>
<rect x="182" y="353" width="720" height="417" fill="#2f7a6a"/>
<rect x="184" y="356" width="680" height="384" fill="#000"/>
<rect x="864" y="354" width="2" height="387" fill="#a8e8d0"/>
<rect x="866" y="354" width="35" height="387" fill="#52ccac"/>
<path d="M186,357H863" stroke="#fff" stroke-width="1.1" stroke-dasharray="5 2"/>
<path d="M186.5,357V739" stroke="#fff" stroke-width="1.1" stroke-dasharray="5 2"/>
<path d="M336,487.3H461.3V542.3H474V487.3H599.5V542.3H612V487.3H737.6V611.3H612V556.3H599.5V611.3H474V556.3H461.3V611.3H336Z" fill="none" stroke="#fff" stroke-width="1.4"/>
<path d="M328,603L345,620M345,603L328,620" stroke="#fff" stroke-width="1"/>
<rect x="808" y="469" width="53" height="2.4" fill="#b89a40"/>
<ellipse cx="791" cy="605.5" rx="10" ry="9.7" fill="#bf9a00"/>
<ellipse cx="628" cy="718.3" rx="13.5" ry="12.5" fill="#bf9a00"/>
<path d="M187,701.5H461.5V739" fill="none" stroke="#bf9a00" stroke-width="1.8"/><path d="M187,703H460.3V739" fill="none" stroke="#8a8a8a" stroke-width="1.4"/>
<path d="M544,739V701.5H750Q752,702 752,705V739" fill="none" stroke="#bf9a00" stroke-width="1.8"/><path d="M545.5,739V703.5H749Q750.5,704 750.5,706V739" fill="none" stroke="#8a8a8a" stroke-width="1.2"/>
<rect x="183" y="740" width="719" height="30" fill="#52ccac"/>
<rect x="184" y="742.7" width="716" height="25.3" fill="#9edada"/><path d="M185,768V744H900" stroke="#c8f0f0" stroke-width="2" fill="none"/><path d="M185,767H899V744" stroke="#4f8080" stroke-width="2" fill="none"/>
<text x="541" y="761" text-anchor="middle" font-family="'Liberation Mono',monospace" font-size="14" fill="#111">Close</text>

<!-- Popview buttons -->
<use href="#bP" x="866" y="354"/><use href="#bP" x="866" y="389"/><use href="#bP" x="866" y="424"/><use href="#bP" x="866" y="459"/><use href="#bP" x="866" y="494"/><use href="#bP" x="866" y="529"/><use href="#bP" x="866" y="564"/>
<g fill="none" stroke="#000" stroke-width="2.2">
<rect x="874" y="367" width="12" height="13"/><rect x="885" y="362" width="5" height="6" stroke-width="1"/>
<path d="M875,403h15v13h-15z"/><path d="M875,437h15v12h-15z"/><path d="M880,472h9v17h-9z"/><path d="M876,507h9v17h-9z"/>
<rect x="880" y="543" width="7" height="7" stroke-width="1.6"/><rect x="880" y="578" width="7" height="7" stroke-width="1.6"/>
</g>
<g fill="#000">
<path d="M883,398l5,6h-3v7h-4v-7h-3z"/><path d="M881,440h4v7h3l-5,7l-5,-7h3z"/><path d="M873,480l6,-5v3h6v5h-6v3z"/><path d="M893,515l-6,-5v3h-6v5h6v3z"/>
<path d="M883.5,534l5,4h-10zM883.5,558l5,-4h-10zM872,546.5l4,-5v10zM895,546.5l-4,-5v10z"/>
<path d="M883.5,570l4,5h-8zM883.5,593l4,-5h-8zM873,581.5l4,-4v8zM894,581.5l-4,-4v8z"/>
<path d="M878,373l4,-3v6z"/>
</g>

<!-- Right panel -->
<rect x="1883" y="78" width="164" height="162" fill="#2e2e2e"/>
<rect x="1883" y="240" width="164" height="245" fill="#5f5f5f"/>
<rect x="1883" y="485" width="164" height="2.5" fill="#3f6a60"/>
<rect x="1883" y="78" width="2" height="947" fill="#2f6a5a"/>

<!-- teal toolbar -->
<use href="#bT" x="1886" y="82"/><use href="#bT" x="1926" y="82"/><use href="#bT" x="1966" y="82"/><use href="#bT" x="2006" y="82"/>
<use href="#bT" x="1886" y="122"/><use href="#bT" x="1926" y="122"/><use href="#bT" x="1966" y="122"/><use href="#bT" x="2006" y="122"/>
<use href="#bT" x="1886" y="162"/><use href="#bT" x="1926" y="162"/><use href="#bT" x="1966" y="162"/><use href="#bT" x="2006" y="162"/>
<use href="#bT" x="1886" y="202"/><use href="#bT" x="1926" y="202"/>
<rect x="1966" y="202" width="38" height="38" fill="#e00000"/><rect x="1968.5" y="204.5" width="33" height="33" fill="#9edada"/>
<rect x="2006" y="202" width="38" height="38" fill="#e00000"/><rect x="2008.5" y="204.5" width="33" height="33" fill="#9edada"/>

<g fill="none" stroke="#000" stroke-width="2.6">
<rect x="1897" y="94" width="15" height="15"/><path d="M1938,92h14v14h-14z"/>
<path d="M1986,114V101h11v13zM1978,100l13.5,-11l13,11" stroke-width="1.4" transform="translate(-1,0)"/>
<rect x="2015" y="88" width="26" height="26" stroke-width="2.2"/><path d="M2028,88v26M2015,106h26" stroke-width="1.4"/>
<path d="M1896,135h16v14h-16z"/><path d="M1935,135h14v14h-14z"/><rect x="1984" y="135" width="13" height="14"/>
<path d="M2013,140h22v-7h-17m0,16h19" stroke-width="2" transform="translate(0,0)"/>
<rect x="1897" y="175" width="14" height="13"/><rect x="1939" y="177" width="7" height="9"/>
<rect x="2012" y="171" width="26" height="26" stroke-width="2.4"/>
<path d="M1898,208h20M1898,219h22" stroke-width="2"/>
</g>
<g fill="#000">
<path d="M1904.5,88l6,6h-12zM1945,113l-6,-7h12zM1893,141l6,-5v10zM1957,141l-6,-5v10zM1893,181l3,-6v11zM1917,181l-3,-6v11zM1904.5,166l5,3h-10zM1904.5,196l5,-3h-10zM1943,172l4,3h-8zM1943,191l4,-3h-8zM1934,181l3,-4v8zM1953,181l3,-4v8z"/>
<path d="M1975,138q6,-4 6,3q0,7 -6,5l2,-2q2,1 2,-3q0,-2 -2,-1v2z"/>
<text x="1984" y="187" text-anchor="middle" font-family="'Liberation Sans',sans-serif" font-weight="bold" font-size="14">1:2</text>
<text x="2026" y="188" text-anchor="middle" font-family="'Liberation Mono',monospace" font-weight="bold" font-size="15">?</text>
<circle cx="1901" cy="228" r="5" fill="none" stroke="#000"/>
</g>
<path d="M1930,210H1957V231H1930ZM1939,208V233M1948,208V233M1930,219H1957" stroke="#80a0a0" fill="none"/>
<!-- circuit icons -->
<g fill="none" stroke-width="1.4">
<rect x="1988" y="208" width="12" height="27" stroke="#000"/><circle cx="1994" cy="213" r="3.5" fill="#e00000" stroke="none"/><circle cx="1994" cy="221" r="2.5" stroke="#000"/><circle cx="1994" cy="229" r="2.5" stroke="#000"/>
<path d="M1982,210V231H1977" stroke="#0000c0"/><path d="M1975,221V208" stroke="#000"/><circle cx="1982" cy="210" r="2.5" fill="#0000c0" stroke="none"/><circle cx="1977" cy="230" r="3" fill="#0000c0" stroke="none"/><circle cx="1975" cy="219" r="3" fill="#e00000" stroke="none"/><path d="M1975,219H1984" stroke="#e00000"/>
<rect x="2028" y="208" width="12" height="27" stroke="#000"/><circle cx="2034" cy="213" r="3.5" fill="#e00000" stroke="none"/><circle cx="2034" cy="221" r="2.5" stroke="#000"/><circle cx="2034" cy="229" r="2.5" stroke="#000"/>
<path d="M2022,210V231H2017" stroke="#000"/><circle cx="2022" cy="210" r="2.5" fill="#000" stroke="none"/><circle cx="2017" cy="230" r="3" fill="#000" stroke="none"/><circle cx="2015" cy="219" r="3" fill="#000" stroke="none"/><path d="M2016,218H2027" stroke="#e00000" stroke-width="2"/>
</g>

<!-- second toolbar -->
<use href="#bW" x="1886" y="246.7"/><use href="#bW" x="1926" y="246.7"/><use href="#bW" x="1966" y="246.7"/><use href="#bW" x="2006" y="246.7"/>
<use href="#bG" x="1886" y="286.7"/><use href="#bG" x="1926" y="286.7"/><use href="#bG" x="1966" y="286.7"/><use href="#bG" x="2006" y="286.7"/>
<use href="#bG" x="1886" y="326.7"/><use href="#bG" x="1926" y="326.7"/><use href="#bG" x="1966" y="326.7"/><use href="#bG" x="2006" y="326.7"/>
<use href="#bG" x="1886" y="366.7"/><use href="#bG" x="1926" y="366.7"/><use href="#bG" x="1966" y="366.7"/><use href="#bG" x="2006" y="366.7"/>
<use href="#bG" x="1886" y="406.7"/><use href="#bG" x="1926" y="406.7"/><use href="#bG" x="1966" y="406.7"/><use href="#bG" x="2006" y="406.7"/>
<use href="#bO" x="1886" y="446.7"/><use href="#bO" x="1926" y="446.7"/><use href="#bO" x="1966" y="446.7"/><use href="#bO" x="2006" y="446.7"/>

<!-- row1 -->
<circle cx="1905" cy="265" r="6.5" fill="#000"/><rect x="1898" y="258" width="14" height="14" fill="none" stroke="#000"/><path d="M1908,261L1916,253" stroke="#000" stroke-width="2"/><path d="M1918,251l-6,1l4,4z"/>
<rect x="1931" y="251" width="28" height="27" fill="#000"/><rect x="1945" y="253" width="11" height="11" fill="none" stroke="#b02020" stroke-width="2.4"/><rect x="1934" y="270" width="6" height="6" fill="none" stroke="#1020b0" stroke-width="1.6"/><path d="M1937,270L1944,253M1940,273L1956,264" stroke="#fff"/>
<rect x="1973" y="261" width="25" height="6" fill="#000"/><path d="M1975,259v3M1979,259v3M1983,259v3M1987,259v3M1991,259v3M1995,259v3" stroke="#000"/>
<rect x="2013" y="254" width="24" height="22" fill="none" stroke="#000" stroke-dasharray="2 1"/><circle cx="2025" cy="265" r="7" fill="#000"/>
<!-- row2 -->
<g fill="#0000e0" stroke="none">
<circle cx="1896" cy="297" r="4.5"/><circle cx="1896" cy="312" r="4"/><circle cx="1913" cy="312" r="4"/><path d="M1894,297h4v15h-4zM1896,310h17v4h-17z"/>
<circle cx="1986" cy="312" r="3.4" fill="none" stroke="#0000e0" stroke-width="1.6"/>
<circle cx="2017" cy="312" r="4.4"/>
</g>
<circle cx="1912" cy="297" r="4.5" fill="#f00000"/><circle cx="1992.5" cy="297" r="4.5" fill="#f00000"/><circle cx="2032.5" cy="297" r="4.5" fill="#f00000"/>
<path d="M1938,298L1952,312M1952,298L1938,312" stroke="#000" stroke-width="2"/><circle cx="1945" cy="305" r="4.5" fill="#101088"/>
<path d="M1990,309L1996,302M2021,308L2028,301" stroke="#000"/>
<!-- row3 -->
<path d="M1896,352L1912,336" stroke="#e80000" stroke-width="2.6"/><path d="M1897,354H1916" stroke="#0000d0" stroke-width="2.6"/><path d="M1912,346l-3,-3" stroke="#000"/>
<path d="M1936,352L1944,344" stroke="#0000d0" stroke-width="2.6"/><path d="M1944,344L1953,336" stroke="#e80000" stroke-width="2.6"/>
<path d="M1983,335q8,2 8,9q0,7 -8,7" fill="none" stroke="#000" stroke-width="1.6"/><path d="M1985,347l-5,4l5,4z"/>
<path d="M2026,335v22" stroke="#000"/><path d="M2023,339h-9v7h8M2023,346h-6v6" fill="none" stroke="#0000d0" stroke-width="2.4"/><path d="M2038,339h-9v15M2029,346h8" fill="none" stroke="#e80000" stroke-width="2.4"/>
<!-- row4 -->
<rect x="1912" y="373" width="9" height="9" fill="none" stroke="#e80000" stroke-width="2.6"/><rect x="1893" y="388" width="10" height="10" fill="none" stroke="#0000d0" stroke-width="1.6"/><circle cx="1898" cy="393" r="2.4" fill="#0000d0"/>
<path d="M1904,386l5,-4" stroke="#000"/>
<path d="M1934,385H1942" stroke="#e80000" stroke-width="2.6"/><path d="M1942,385H1948" stroke="#0000d0" stroke-width="2.6"/><path d="M1948,385H1956" stroke="#e80000" stroke-width="2.6"/>
<path d="M1972,372V396M1995,372V396M1976,385H1991" stroke="#000"/><rect x="1979" y="380" width="8" height="10" fill="none" stroke="#0000c0"/>
<rect x="2013" y="375" width="10" height="11" fill="#0000c0"/><circle cx="2018" cy="381" r="3" fill="#ccc"/><rect x="2024" y="383" width="12" height="11" fill="#0000c0"/><circle cx="2030" cy="388" r="3" fill="#ccc"/><circle cx="2022" cy="383" r="4" fill="#0000c0"/>
<!-- row5 -->
<path d="M1895,433L1905,419L1915,433Z" fill="none" stroke="#e80000" stroke-width="2.2"/><path d="M1895,433H1915" stroke="#0000d0" stroke-width="2.6"/>
<path d="M1933,437L1945,410L1957,437" fill="none" stroke="#e80000" stroke-width="1.6"/><path d="M1936,437L1945,427L1954,437" fill="none" stroke="#0000d0" stroke-width="2"/>
<path d="M1976,427L1981,412H1992L1997,427" fill="none" stroke="#e80000" stroke-width="3"/><path d="M1972,431H2001" stroke="#0000d0" stroke-width="2.6"/><path d="M1973,436L1976,431M1999,436L1996,431" stroke="#0000d0" stroke-width="2"/>
<path d="M2016,427L2021,412H2030L2035,427" fill="none" stroke="#e80000" stroke-width="3"/><path d="M2010,431H2041" stroke="#0000d0" stroke-width="2.4"/><path d="M2012,428l4,6M2016,428l-4,6M2035,428l4,6M2039,428l-4,6" stroke="#000"/>
<path d="M1905,422v6M1945,418v6M1985,418v6M2025,418v6" stroke="#000"/>
<!-- row6 -->
<g fill="#000"><path d="M1901,456L1912,468L1908,469L1911,477L1907,478L1904,470L1901,473Z"/>
<path d="M1941,456L1952,468L1948,469L1951,477L1947,478L1944,470L1941,473Z"/>
<path d="M1981,456L1992,468L1988,469L1991,477L1987,478L1984,470L1981,473Z"/>
<path d="M2030,462L2040,473L2036,474L2039,481L2035,482L2032,475L2030,478Z"/></g>
<rect x="1933" y="453" width="23" height="24" fill="none" stroke="#e80000" stroke-width="2"/>
<path d="M1976,452H1996V478H1976L1972,472V458Z" fill="none" stroke="#e80000" stroke-width="2"/>
<path d="M2016,475H2022V465H2030V458H2037" fill="none" stroke="#000"/><circle cx="2016" cy="466" r="2.4" fill="#d02000"/><circle cx="2015" cy="475" r="2.4" fill="#2aa020"/><circle cx="2033" cy="457" r="2.4" fill="#2aa020"/>

<!-- Minimap -->
<rect x="1885" y="644" width="162" height="203" fill="#000"/>
<rect x="1886" y="647" width="161" height="196" fill="#ff0000"/>
<path d="M1885,644.5H2047M1885,847H2047M1885.5,644V847" stroke="#3a7a40" stroke-width="1"/>
<rect x="1895" y="656" width="134" height="178" fill="none" stroke="#8a9a9a" stroke-width="2.6"/>
<path d="M1895,656V834" stroke="#20d8d8" stroke-width="2.6"/>
<rect x="1906" y="676" width="112" height="138" fill="none" stroke="#909a9a" stroke-width="2.6"/>
<path d="M1962,676V814" stroke="#909a9a" stroke-width="2.6"/>
<path d="M1906,745H2018" stroke="#20d8d8" stroke-width="3"/>
<rect x="2002" y="667.5" width="16" height="6.5" fill="none" stroke="#20d8d8" stroke-width="2"/><path d="M2006,670.5h2M2014,670.5h2" stroke="#20d8d8" stroke-width="2"/>
<g fill="#20d8d8">
<rect x="1917" y="675" width="5" height="3"/><rect x="1931" y="675" width="5" height="3"/><rect x="1950" y="675" width="5" height="3"/><rect x="1973" y="675" width="5" height="3"/><rect x="1988" y="675" width="5" height="3"/><rect x="2007" y="675" width="5" height="3"/>
<rect x="1917" y="742" width="5" height="6"/><rect x="1931" y="742" width="5" height="6"/><rect x="1950" y="742" width="5" height="6"/><rect x="1973" y="742" width="5" height="6"/><rect x="1988" y="742" width="5" height="6"/><rect x="2007" y="742" width="5" height="6"/>
<rect x="1917" y="811" width="5" height="3"/><rect x="1931" y="811" width="5" height="3"/><rect x="1950" y="811" width="5" height="3"/><rect x="1973" y="811" width="5" height="3"/><rect x="1988" y="811" width="5" height="3"/><rect x="2007" y="811" width="5" height="3"/>
</g>
<g stroke="#c0f0f0" stroke-width=".8" fill="none"><path d="M1903,741L1910,749M1910,741L1903,749M1959,741L1966,749M1966,741L1959,749M1903,810L1910,818M1910,810L1903,818M1959,810L1966,818M1966,810L1959,818M1892,830L1899,838M1899,830L1892,838"/></g>

<!-- Status -->
<rect x="1885" y="1000" width="162" height="2" fill="#c8e8e0"/>
<rect x="1885" y="1002" width="162" height="2" fill="#2f5a50"/>
<rect x="1885" y="1004" width="162" height="21" fill="#52ccac"/>
<text class="mono" x="1888" y="1021" font-size="15" fill="#111">X = -14.609534"</text>
</svg>
</body></html>
